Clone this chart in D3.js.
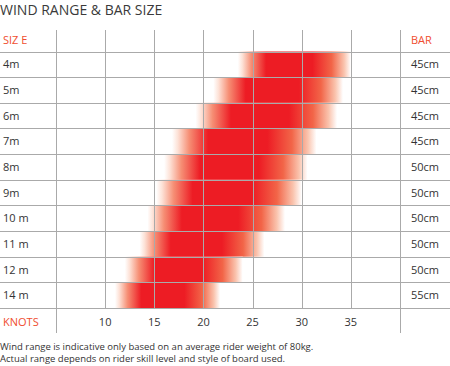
<!DOCTYPE html>
<html>
<head>
<meta charset="utf-8">
<script src="https://cdn.jsdelivr.net/npm/d3@7"></script>
<style>
  body { margin: 0; background: #fff; }
  svg { display: block; font-family: "Open Sans", sans-serif; }
</style>
</head>
<body>
<svg id="chart" width="450" height="366"></svg>
<script>
const sizes = ["4m", "5m", "6m", "7m", "8m", "9m", "10 m", "11 m", "12 m", "14 m"];
const windFrom = [23.5, 21, 19.2, 16.8, 16, 15.2, 14.3, 13.5, 12, 11];
const windTo = [35, 34.2, 33.6, 31.5, 30.6, 30, 28.3, 26.2, 24, 21.7];
const bars = ["45cm", "45cm", "45cm", "45cm", "50cm", "50cm", "50cm", "50cm", "50cm", "55cm"];
const knotTicks = [10, 15, 20, 25, 30, 35];
const innerKnots = [10, 15, 20, 25, 30, 35];
const outerKnots = [5, 40];

const red = "#ed1c24";
const labelRed = "#f04e30";
const textGrey = "#333";
const gridGrey = "#aaa";

const svg = d3.select("#chart");

const xScale = d3.scaleLinear().domain([5, 40]).range([56, 400]);
const yScale = d3.scaleBand().domain(sizes).range([51.5, 308]).padding(0);

// gradient for the wind range bars
const grad = svg.append("defs").append("linearGradient")
  .attr("id", "barGrad")
  .attr("x1", "0%").attr("x2", "100%").attr("y1", "0%").attr("y2", "0%");
[
  [0, "#ffffff"],
  [0.04, "#fde2d7"],
  [0.12, "#f68e74"],
  [0.25, red],
  [0.66, red],
  [0.83, "#f26548"],
  [0.94, "#fac3ad"],
  [1, "#ffffff"],
].forEach(([o, c]) => grad.append("stop").attr("offset", o).attr("stop-color", c));

// bars
svg.append("g")
  .selectAll("rect")
  .data(sizes)
  .join("rect")
  .attr("x", (d, i) => xScale(windFrom[i]))
  .attr("y", (d) => yScale(d))
  .attr("width", (d, i) => xScale(windTo[i]) - xScale(windFrom[i]))
  .attr("height", yScale.bandwidth())
  .attr("fill", "url(#barGrad)");

// grid
const grid = svg.append("g").attr("stroke", gridGrey).attr("stroke-width", 1);
grid.selectAll("line.v")
  .data(innerKnots)
  .join("line")
  .attr("class", "v")
  .attr("x1", (d) => Math.round(xScale(d)) + 0.5)
  .attr("x2", (d) => Math.round(xScale(d)) + 0.5)
  .attr("y1", 30)
  .attr("y2", 308);
grid.selectAll("line.o")
  .data(outerKnots)
  .join("line")
  .attr("class", "o")
  .attr("x1", (d) => Math.round(xScale(d)) + 0.5)
  .attr("x2", (d) => Math.round(xScale(d)) + 0.5)
  .attr("y1", 30)
  .attr("y2", 333);

const rowLines = sizes.map((d) => yScale(d)).concat([yScale.range()[1]]);
grid.selectAll("line.h")
  .data(rowLines)
  .join("line")
  .attr("class", "h")
  .attr("x1", 0)
  .attr("x2", 450)
  .attr("y1", (d) => Math.round(d) + 0.5)
  .attr("y2", (d) => Math.round(d) + 0.5);

// title
svg.append("text")
  .attr("x", 0)
  .attr("y", 15)
  .attr("fill", "#3a3a3a")
  .attr("font-size", 14)
  .text("WIND RANGE & BAR SIZE");

// header row
const headerY = 44;
svg.append("text").attr("x", 3).attr("y", headerY)
  .attr("fill", labelRed).attr("font-size", 11).text("SIZ E");
svg.append("text").attr("x", 411).attr("y", headerY)
  .attr("fill", labelRed).attr("font-size", 11).text("BAR");

// row labels
const half = yScale.bandwidth() / 2;
svg.append("g")
  .selectAll("text")
  .data(sizes)
  .join("text")
  .attr("x", 3)
  .attr("y", (d) => yScale(d) + half + 4)
  .attr("fill", textGrey)
  .attr("font-size", 11)
  .text((d) => d);

svg.append("g")
  .selectAll("text")
  .data(sizes)
  .join("text")
  .attr("x", 411)
  .attr("y", (d) => yScale(d) + half + 4)
  .attr("fill", textGrey)
  .attr("font-size", 11)
  .text((d, i) => bars[i]);

// knots axis row
const knotsY = 326;
svg.append("text").attr("x", 3).attr("y", knotsY)
  .attr("fill", labelRed).attr("font-size", 11).text("KNOTS");

svg.append("g")
  .selectAll("text")
  .data(knotTicks)
  .join("text")
  .attr("x", (d) => xScale(d))
  .attr("y", knotsY)
  .attr("text-anchor", "middle")
  .attr("fill", textGrey)
  .attr("font-size", 11)
  .text((d) => d);

// footnote
svg.append("text").attr("x", 0).attr("y", 350)
  .attr("fill", textGrey).attr("font-size", 9.5)
  .text("Wind range is indicative only based on an average rider weight of 80kg.");
svg.append("text").attr("x", 0).attr("y", 362)
  .attr("fill", textGrey).attr("font-size", 9.5)
  .text("Actual range depends on rider skill level and style of board used.");
</script>
</body>
</html>
